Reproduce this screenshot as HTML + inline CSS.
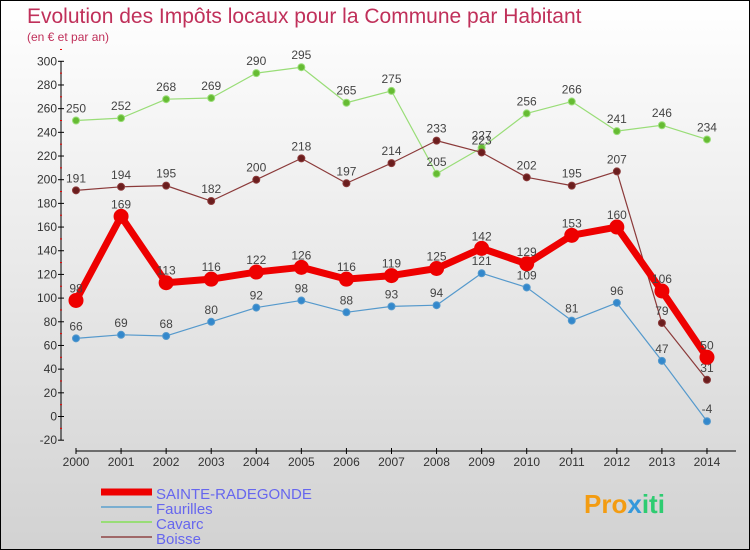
<!DOCTYPE html>
<html><head><meta charset="utf-8"><style>
body{margin:0}
#c{width:750px;height:550px;position:relative;box-sizing:border-box;border:1px solid #000;background:linear-gradient(#fff,#d2d2d2);font-family:"Liberation Sans",sans-serif;overflow:hidden}
</style></head><body>
<div id="c">
<svg width="748" height="548" style="position:absolute;left:0;top:0" id="s">
<text x="26" y="22" font-size="21" fill="#c0305a" font-weight="normal">Evolution des Impôts locaux pour la Commune par Habitant</text>
<text x="26" y="40" font-size="12" fill="#c0305a">(en € et par an)</text>
<g id="axes"></g><g id="series"></g><g id="legend"></g>
<text x="583" y="512" font-size="26" font-weight="bold" fill="#f39c12">Pro<tspan fill="#3498db">x</tspan><tspan fill="#2ecc71">iti</tspan></text>
</svg></div>
<script>
const years=[2000,2001,2002,2003,2004,2005,2006,2007,2008,2009,2010,2011,2012,2013,2014];
const yTicks=[-20,0,20,40,60,80,100,120,140,160,180,200,220,240,260,280,300];
const sainte=[98,169,113,116,122,126,116,119,125,142,129,153,160,106,50];
const faurilles=[66,69,68,80,92,98,88,93,94,121,109,81,96,47,-4];
const cavarc=[250,252,268,269,290,295,265,275,205,227,256,266,241,246,234];
const boisse=[191,194,195,182,200,218,197,214,233,223,202,195,207,79,31];
const NS="http://www.w3.org/2000/svg";
function X(i){return 75+i*45.07;}
function Y(v){return 415.5-v*1.184;}
function mk(t,a,p){const e=document.createElementNS(NS,t);for(const k in a)e.setAttribute(k,a[k]);p.appendChild(e);return e;}
const ax=document.getElementById('axes');
const yl=mk('line',{x1:60,y1:Y(300),x2:60,y2:Y(-20),stroke:'#000'},ax);


yTicks.forEach(v=>{
 mk('line',{x1:57,x2:63,y1:Y(v),y2:Y(v),stroke:'#000'},ax);
 mk('line',{x1:59,x2:61,y1:Y(v+10),y2:Y(v+10),stroke:'#e00'},ax);
 const t=mk('text',{x:56,y:Y(v)+4,'text-anchor':'end','font-size':12,fill:'#333'},ax);t.textContent=v;
 
 
});
const xl=mk('line',{x1:X(0),y1:450,x2:735,y2:450,stroke:'#000'},ax);


years.forEach((y,i)=>{
 mk('line',{x1:X(i),x2:X(i),y1:447,y2:453,stroke:'#000'},ax);
 const t=mk('text',{x:X(i),y:465,'text-anchor':'middle','font-size':12,fill:'#333'},ax);t.textContent=y;
 
 
});
const sg=document.getElementById('series');
function draw(data,color,dot,w,r,name){
 const g=mk('g',{},sg);
 
 
 const pl=mk('polyline',{points:data.map((v,i)=>X(i)+','+Y(v)).join(' '),fill:'none',stroke:color,'stroke-width':w,'stroke-linejoin':'round'},g);
 
 
 data.forEach((v,i)=>{
  const c=mk('circle',{cx:X(i),cy:Y(v),r:r,fill:dot,stroke:color,'stroke-width':1},g);
  
  
  const t=mk('text',{x:X(i),y:Y(v)-8,'text-anchor':'middle','font-size':12,fill:'#444'},g);t.textContent=v;
  
  
 });
}
draw(cavarc,'#99dd77','#66bb33',1.2,3.5,'cavarc');
draw(boisse,'#8b3a3a','#6b1e1e',1.2,3.5,'boisse');
draw(faurilles,'#5599cc','#3388cc',1.2,3.5,'faurilles');
draw(sainte,'#ee0000','#ee0000',7,7,'sainte-radegonde');
const lg=document.getElementById('legend');
const items=[['SAINTE-RADEGONDE','#ee0000',7],['Faurilles','#7aaed0',2],['Cavarc','#99dd77',2],['Boisse','#a06868',2]];
items.forEach((it,i)=>{
 const y=491+i*15;
 const l=mk('line',{x1:100,x2:151,y1:y,y2:y,stroke:it[1],'stroke-width':it[2]},lg);
 
 
 const t=mk('text',{x:155,y:y+7,'font-size':15,fill:'#6666ee'},lg);t.textContent=it[0];
 
 
});
</script>
</body></html>
